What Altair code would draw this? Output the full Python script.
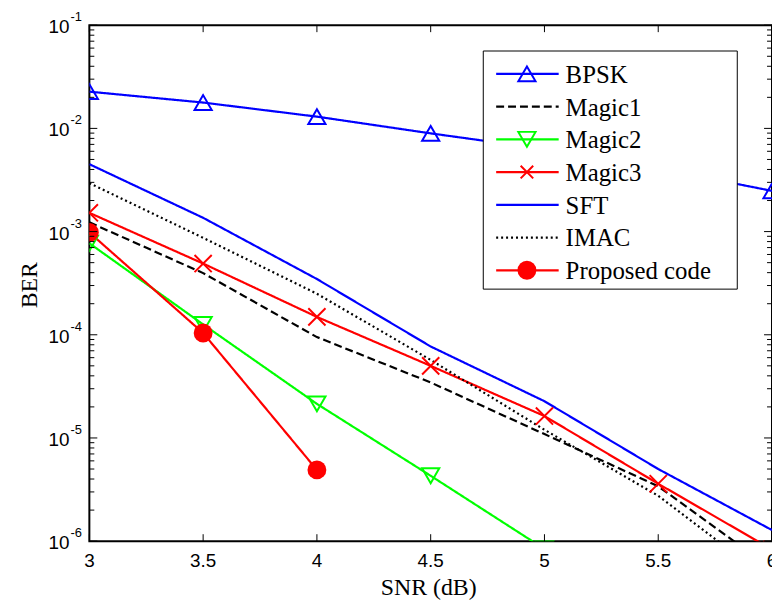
import altair as alt
import pandas as pd

# ---------------- data ----------------
snr = [3.0, 3.5, 4.0, 4.5, 5.0, 5.5, 6.0]
bpsk = [2.27e-2, 1.78e-2, 1.30e-2, 8.95e-3, 6.3e-3, 4.1e-3, 2.48e-3]
magic1 = [1.23e-3, 3.96e-4, 9.5e-5, 3.45e-5, 1.09e-5, 3.4e-6, 5.4e-7]
magic2_snr = [3.0, 3.5, 4.0, 4.5, 5.0]
magic2 = [7.7e-4, 1.26e-4, 2.14e-5, 4.3e-6, 8.4e-7]
magic3 = [1.52e-3, 4.9e-4, 1.49e-4, 5.0e-5, 1.63e-5, 3.6e-6, 8.3e-7]
sft = [4.5e-3, 1.36e-3, 3.47e-4, 7.7e-5, 2.27e-5, 5.0e-6, 1.28e-6]
imac = [2.95e-3, 8.7e-4, 2.5e-4, 5.7e-5, 1.2e-5, 2.75e-6, 4.0e-7]
proposed_snr = [3.0, 3.5, 4.0]
proposed = [9.8e-4, 1.04e-4, 4.9e-6]

names = ["BPSK", "Magic1", "Magic2", "Magic3", "SFT", "IMAC", "Proposed code"]
x_ticks = [3, 3.5, 4, 4.5, 5, 5.5, 6]
x_tick_labels = ["3", "3.5", "4", "4.5", "5", "5.5", "6"]
y_decades = [1e-1, 1e-2, 1e-3, 1e-4, 1e-5, 1e-6]
y_exponents = ["-1", "-2", "-3", "-4", "-5", "-6"]
y_minor = [m * 10.0 ** e for e in range(-6, -1) for m in range(2, 10)]

# ---------------- styles ----------------
colors = ["#0000FF", "#000000", "#00FF00", "#FF0000", "#0000FF", "#000000", "#FF0000"]
dashes = [[1, 0], [8, 4], [1, 0], [1, 0], [1, 0], [2, 3], [1, 0]]
W, H = 688, 520
SERIF = "Liberation Serif"
SANS = "Liberation Sans"
CROSS = "M-1,-1L1,1M-1,1L1,-1"
LW = 2.2

series_x = {
    "BPSK": snr, "Magic1": snr, "Magic2": magic2_snr, "Magic3": snr,
    "SFT": snr, "IMAC": snr, "Proposed code": proposed_snr,
}
series_y = {
    "BPSK": bpsk, "Magic1": magic1, "Magic2": magic2, "Magic3": magic3,
    "SFT": sft, "IMAC": imac, "Proposed code": proposed,
}
rows = []
for n in names:
    for xv, yv in zip(series_x[n], series_y[n]):
        rows.append({"series": n, "snr": xv, "ber": yv})
df = pd.DataFrame(rows)

xs = alt.Scale(domain=[3, 6], nice=False, zero=False)
ys = alt.Scale(type="log", domain=[1e-6, 1e-1], nice=False)
X = alt.X("snr:Q", scale=xs, axis=None)
Y = alt.Y("ber:Q", scale=ys, axis=None)
color = alt.Color("series:N", scale=alt.Scale(domain=names, range=colors), legend=None)
dash = alt.StrokeDash("series:N", scale=alt.Scale(domain=names, range=dashes), legend=None)

lines = alt.Chart(df).mark_line(clip=True, strokeWidth=LW).encode(
    x=X, y=Y, color=color, strokeDash=dash)

open_names = ["BPSK", "Magic2", "Magic3"]
open_pts = alt.Chart(df).transform_filter(
    alt.FieldOneOfPredicate(field="series", oneOf=open_names)
).mark_point(clip=True, filled=False, strokeWidth=2, opacity=1).encode(
    x=X, y=Y, color=color,
    shape=alt.Shape("series:N", scale=alt.Scale(domain=open_names,
                    range=["triangle-up", "triangle-down", CROSS]), legend=None),
    size=alt.Size("series:N", scale=alt.Scale(domain=open_names, range=[300, 300, 160]), legend=None),
)
filled_pts = alt.Chart(df).transform_filter(
    alt.datum.series == "Proposed code"
).mark_point(clip=True, filled=True, shape="circle", size=361, opacity=1).encode(
    x=X, y=Y, color=color)

# ---------------- inward ticks ----------------
dfx = pd.DataFrame({"snr": x_ticks})
dfy = pd.DataFrame({"ber": y_decades})
dfym = pd.DataFrame({"ber": y_minor})
tick_layers = [
    alt.Chart(dfx).mark_rule(color="black", strokeWidth=1).encode(x=X, y=alt.value(H), y2=alt.value(H - 7)),
    alt.Chart(dfx).mark_rule(color="black", strokeWidth=1).encode(x=X, y=alt.value(0), y2=alt.value(7)),
    alt.Chart(dfy).mark_rule(color="black", strokeWidth=1).encode(y=Y, x=alt.value(0), x2=alt.value(8)),
    alt.Chart(dfy).mark_rule(color="black", strokeWidth=1).encode(y=Y, x=alt.value(W), x2=alt.value(W - 8)),
    alt.Chart(dfym).mark_rule(color="black", strokeWidth=1).encode(y=Y, x=alt.value(0), x2=alt.value(5)),
    alt.Chart(dfym).mark_rule(color="black", strokeWidth=1).encode(y=Y, x=alt.value(W), x2=alt.value(W - 5)),
]

# ---------------- tick labels & titles ----------------
dfxl = pd.DataFrame({"snr": x_ticks, "lab": x_tick_labels})
dfyl = pd.DataFrame({"ber": y_decades, "exp": y_exponents})
label_layers = [
    alt.Chart(dfxl).mark_text(font=SANS, fontSize=19, color="black", baseline="middle", align="center").encode(
        x=X, y=alt.value(H + 20), text="lab:N"),
    alt.Chart(dfyl).mark_text(font=SANS, fontSize=19, color="black", baseline="middle", align="right", dy=2).encode(
        y=Y, x=alt.value(-20), text=alt.value("10")),
    alt.Chart(dfyl).mark_text(font=SANS, fontSize=13, color="black", baseline="middle", align="left", dy=-8).encode(
        y=Y, x=alt.value(-19), text="exp:N"),
]
one = pd.DataFrame({"a": [0]})
title_layers = [
    alt.Chart(one).mark_text(font=SERIF, fontSize=24, color="black", text="SNR (dB)",
                             baseline="middle", align="center").encode(x=alt.value(342), y=alt.value(567)),
    alt.Chart(one).mark_text(font=SERIF, fontSize=24, color="black", text="BER", angle=270,
                             baseline="middle", align="center").encode(x=alt.value(-60), y=alt.value(262)),
]

# ---------------- legend ----------------
legend_layers = [
    alt.Chart(one).mark_rect(fill="white", stroke="black", strokeWidth=1).encode(
        x=alt.value(397), x2=alt.value(653), y=alt.value(26), y2=alt.value(266))
]
marker_of = {"BPSK": ("triangle-up", 300, False), "Magic2": ("triangle-down", 300, False),
             "Magic3": (CROSS, 160, False), "Proposed code": ("circle", 361, True)}
for i, n in enumerate(names):
    ly = 49 + 33 * i
    c = colors[i]
    legend_layers.append(
        alt.Chart(one).mark_rule(color=c, strokeWidth=LW, strokeDash=dashes[i]).encode(
            x=alt.value(410), x2=alt.value(473), y=alt.value(ly)))
    if n in marker_of:
        shp, sz, fl = marker_of[n]
        legend_layers.append(
            alt.Chart(one).mark_point(shape=shp, size=sz, filled=fl, color=c, strokeWidth=2, opacity=1).encode(
                x=alt.value(441), y=alt.value(ly)))
    legend_layers.append(
        alt.Chart(one).mark_text(text=n, font=SERIF, fontSize=25, color="black", align="left",
                                 baseline="middle").encode(x=alt.value(480), y=alt.value(ly + 1)))

chart = alt.layer(
    lines, open_pts, filled_pts, *tick_layers, *label_layers, *title_layers, *legend_layers
).properties(
    width=W, height=H,
    padding={"left": 82, "top": 15, "right": 0, "bottom": 62},
    autosize=alt.AutoSizeParams(type="none"),
    background="white",
).configure_view(stroke="black", strokeWidth=2)

chart.save("out.html", embed_options={"renderer": "svg", "actions": False})
